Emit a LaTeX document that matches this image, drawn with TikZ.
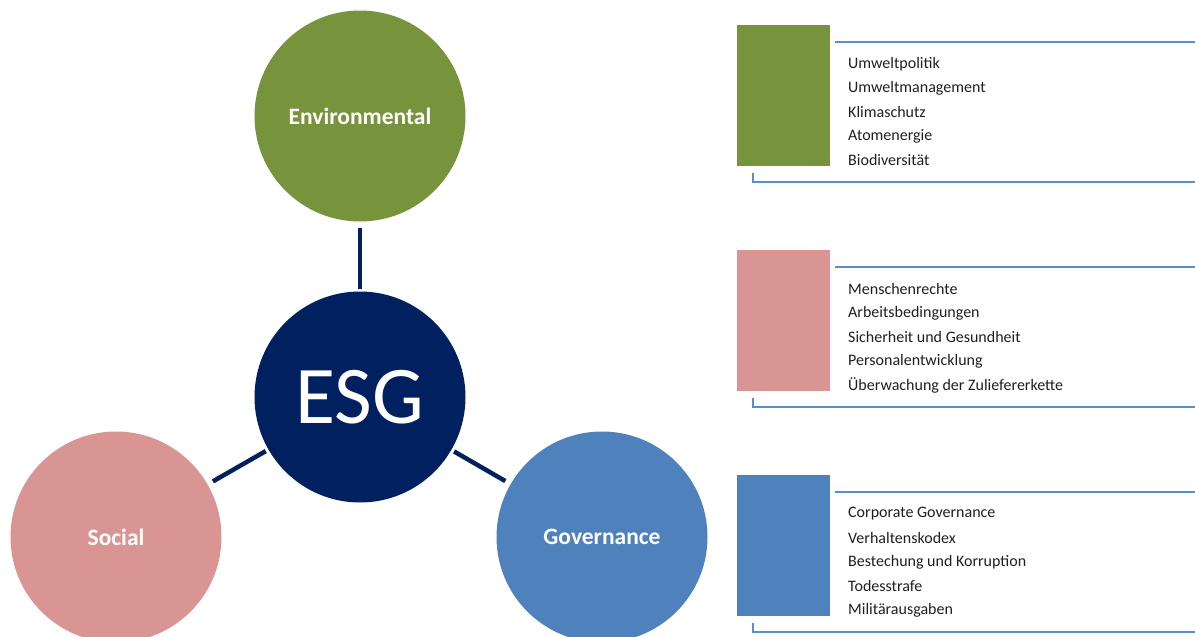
\documentclass[tikz,border=0pt]{standalone}
\usepackage{fontspec}
\setmainfont{Carlito}
\definecolor{envgreen}{HTML}{77933C}
\definecolor{socpink}{HTML}{D99594}
\definecolor{govblue}{HTML}{4F81BD}
\definecolor{esgnavy}{HTML}{002060}
\definecolor{linkblue}{HTML}{5B8BD0}
\definecolor{txt}{HTML}{1F1F1F}
\begin{document}
\begin{tikzpicture}[x=1pt,y=-1pt,
  bigcirc/.style={circle,minimum size=211pt,inner sep=0pt,text=white,font=\fontsize{23.5}{28}\selectfont\bfseries},
  conn/.style={draw=esgnavy,line width=4.5pt},
  catbox/.style={rectangle,minimum width=93pt,minimum height=141pt,inner sep=0pt,anchor=north west},
  rule/.style={draw=linkblue,line width=1.6pt},
  item/.style={anchor=west,inner sep=0pt,text=txt,font=\fontsize{16}{19}\selectfont}]
\useasboundingbox (0,0) rectangle (1195,637);
% circles
\node[bigcirc,fill=envgreen] (env) at (360,116) {Environmental};
\node[bigcirc,fill=esgnavy,font=\fontsize{82}{90}\selectfont] (esg) at (360,397) {ESG};
\node[bigcirc,fill=socpink] (soc) at (116,537) {Social};
\node[bigcirc,fill=govblue] (gov) at (602,537) {Governance};
% connectors
\draw[conn,shorten <=2pt,shorten >=6pt] (esg) -- (env);
\draw[conn,shorten <=3pt,shorten >=6pt] (esg) -- (soc);
\draw[conn,shorten <=3pt,shorten >=6pt] (esg) -- (gov);
% panels
\foreach \n/\col/\y in {e/envgreen/25, s/socpink/250, g/govblue/475}{
  \node[catbox,fill=\col] (box\n) at (737,\y) {};
  \coordinate (t\n a) at (835,\y+17);
  \coordinate (t\n b) at (1195,\y+17);
  \coordinate (b\n a) at (753,\y+148);
  \coordinate (b\n b) at (753,\y+157);
  \coordinate (b\n c) at (1195,\y+157);
  \draw[rule] (t\n a) -- (t\n b);
  \draw[rule] (b\n a) -- (b\n b) -- (b\n c);
}
\node[item] (e1) at (848,64) {Umweltpolitik};
\node[item] (e2) at (848,88) {Umweltmanagement};
\node[item] (e3) at (848,112) {Klimaschutz};
\node[item] (e4) at (848,136) {Atomenergie};
\node[item] (e5) at (848,160) {Biodiversität};
\node[item] (s1) at (848,289) {Menschenrechte};
\node[item] (s2) at (848,313) {Arbeitsbedingungen};
\node[item] (s3) at (848,337) {Sicherheit und Gesundheit};
\node[item] (s4) at (848,361) {Personalentwicklung};
\node[item] (s5) at (848,385) {Überwachung der Zuliefererkette};
\node[item] (g1) at (848,514) {Corporate Governance};
\node[item] (g2) at (848,538) {Verhaltenskodex};
\node[item] (g3) at (848,562) {Bestechung und Korruption};
\node[item] (g4) at (848,586) {Todesstrafe};
\node[item] (g5) at (848,610) {Militärausgaben};
\end{tikzpicture}
\end{document}
